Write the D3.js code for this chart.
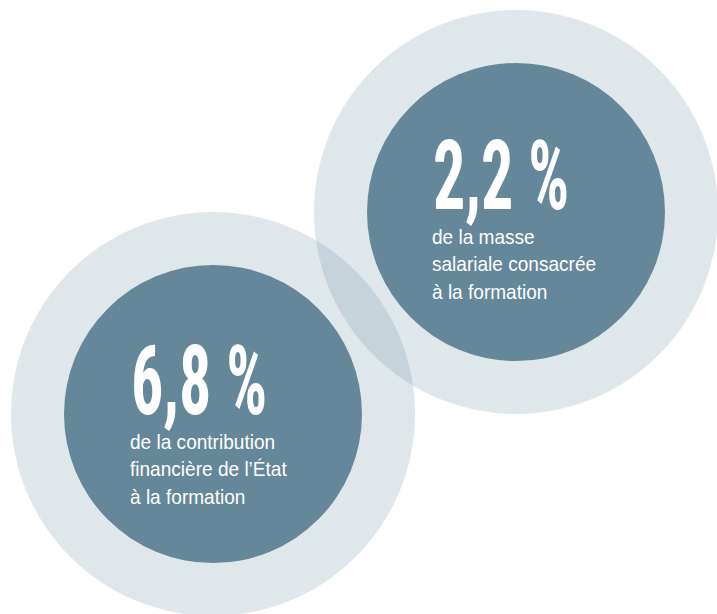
<!DOCTYPE html>
<html>
<head>
<meta charset="utf-8">
<script src="https://cdn.jsdelivr.net/npm/d3@7"></script>
<style>
  html, body { margin: 0; padding: 0; background: #ffffff; }
  svg { display: block; }
</style>
</head>
<body>
<svg id="chart" width="717" height="614"></svg>
<script>
// ---- data ----
const values = [6.8, 2.2];
const valueLabels = ["6,8 %", "2,2 %"];
const descLines = [
  ["de la contribution", "financière de l\u2019État", "à la formation"],
  ["de la masse", "salariale consacrée", "à la formation"]
];

// ---- layout (not data) ----
const centers = [[213, 414], [516, 212]];
const textOrigins = [[131, 414], [433, 209]];   // left x, baseline of big figure
const rOuter = 202, rInner = 149;
const innerColor = "#64879a";

const svg = d3.select("#chart");

const items = values.map((v, i) => ({
  value: v, label: valueLabels[i], lines: descLines[i],
  cx: centers[i][0], cy: centers[i][1],
  tx: textOrigins[i][0], ty: textOrigins[i][1]
}));

// outer translucent rings
svg.selectAll("circle.outer").data(items).join("circle")
  .attr("class", "outer")
  .attr("cx", d => d.cx).attr("cy", d => d.cy)
  .attr("r", rOuter)
  .attr("fill", innerColor)
  .attr("fill-opacity", 0.2);

// inner solid discs
svg.selectAll("circle.inner").data(items).join("circle")
  .attr("class", "inner")
  .attr("cx", d => d.cx).attr("cy", d => d.cy)
  .attr("r", rInner)
  .attr("fill", innerColor);

// text blocks
const g = svg.selectAll("g.txt").data(items).join("g")
  .attr("class", "txt")
  .attr("transform", d => `translate(${d.tx},${d.ty})`);

g.append("text")
  .attr("x", 0)
  .attr("y", 0)
  .attr("fill", "#ffffff")
  .attr("font-family", "'Liberation Sans Narrow', 'Roboto Condensed', 'Liberation Sans', Arial, sans-serif")
  .attr("font-weight", 700)
  .attr("font-size", 96)
  .attr("textLength", 136)
  .attr("lengthAdjust", "spacingAndGlyphs")
  .text(d => d.label);

const sub = g.append("g")
  .attr("transform", "translate(-1,0) scale(0.93,1)");

sub.selectAll("text").data(d => d.lines).join("text")
  .attr("x", 0)
  .attr("y", (d, i) => 35 + i * 27.3)
  .attr("fill", "#ffffff")
  .attr("font-family", "'Liberation Sans', Arial, sans-serif")
  .attr("font-size", 20.5)
  .text(d => d);
</script>
</body>
</html>
